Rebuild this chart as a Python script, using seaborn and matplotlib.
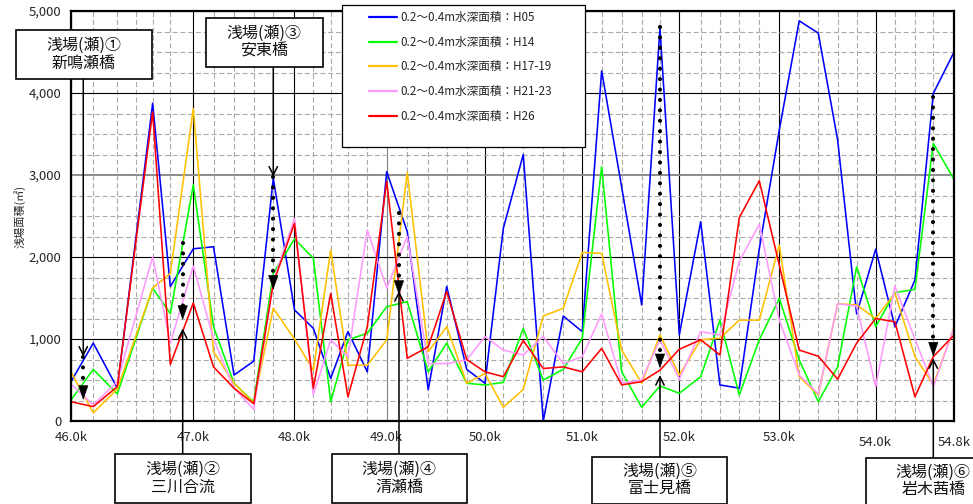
import matplotlib
matplotlib.use("Agg")
import matplotlib.pyplot as plt
from matplotlib.lines import Line2D
from matplotlib.patches import Rectangle
from matplotlib.transforms import ScaledTranslation, blended_transform_factory
import pandas as pd
import seaborn as sns

# cumulative distance of each surveyed cross-section from 46.0k (m)
section_dist = [0, 227, 472, 662, 832, 1012, 1246, 1452, 1661, 1862,
                2061, 2277, 2469, 2646, 2822, 3019, 3217, 3426, 3640, 3828,
                4032, 4218, 4405, 4608, 4812, 5016, 5209, 5407, 5611, 5815,
                6001, 6198, 6416, 6612, 6809, 7013, 7217, 7420, 7614, 7811,
                8005, 8199, 8395, 8599, 8786, 9000]

# shallow area (m2) with 0.2-0.4 m water depth, per survey period
h05 = [480, 950, 400, 2240, 3875, 1640, 2100, 2125, 560, 730,
       2960, 1355, 1130, 520, 1090, 600, 3040, 2310, 380, 1640,
       630, 460, 2350, 3250, 0, 1280, 1090, 4270, 2850, 1415,
       4790, 1050, 2430, 440, 400, 2100, 3550, 4880, 4730, 3430,
       1305, 2095, 1150, 1720, 3995, 4505]
h14 = [256, 630, 330, 1010, 1620, 1310, 2880, 1150, 460, 230,
       1800, 2220, 1985, 235, 990, 1070, 1395, 1455, 600, 950,
       460, 440, 470, 1130, 500, 630, 1010, 3100, 600, 167,
       427, 338, 540, 1230, 317, 990, 1495, 745, 235, 660,
       1880, 1150, 1565, 1605, 3385, 2940]
h17_19 = [600, 100, 390, 1040, 1620, 1800, 3810, 845, 460, 220,
          1375, 1000, 620, 2085, 680, 680, 990, 3030, 845, 1150,
          460, 580, 167, 386, 1280, 1375, 2055, 2045, 865, 460,
          1050, 560, 990, 1010, 1230, 1230, 2145, 540, 317, 1430,
          1415, 1250, 1560, 785, 440, 1150]
h21_23 = [450, 195, 480, 1285, 2000, 950, 1890, 1000, 400, 143,
          1700, 2470, 320, 990, 785, 2330, 1620, 2250, 700, 700,
          745, 1030, 865, 805, 1030, 700, 785, 1305, 460, 500,
          990, 510, 1090, 1050, 1945, 2400, 1230, 560, 330, 1430,
          1400, 420, 1645, 1000, 420, 1150]
h26 = [235, 175, 420, 2195, 3770, 690, 1440, 660, 400, 210,
       1680, 2410, 400, 1555, 296, 1150, 2920, 765, 905, 1580,
       750, 600, 540, 980, 640, 660, 600, 885, 440, 480,
       620, 875, 990, 805, 2480, 2930, 1900, 865, 790, 510,
       950, 1250, 1210, 296, 785, 1050]

series_names = ["0.2～0.4m水深面積：H05", "0.2～0.4m水深面積：H14",
                "0.2～0.4m水深面積：H17-19", "0.2～0.4m水深面積：H21-23",
                "0.2～0.4m水深面積：H26"]
series_colors = ["#0000FF", "#00FF00", "#FFC000", "#FF99FF", "#FF0000"]

tick_index = [0, 6, 11, 16, 21, 26, 31, 36, 41, 45]
tick_labels = ["46.0k", "47.0k", "48.0k", "49.0k", "50.0k",
               "51.0k", "52.0k", "53.0k", "54.0k", "54.8k"]

# shallow (riffle) sites
site_titles = ["浅場(瀬)①", "浅場(瀬)②", "浅場(瀬)③",
               "浅場(瀬)④", "浅場(瀬)⑤", "浅場(瀬)⑥"]
site_names = ["新鳴瀬橋", "三川合流", "安東橋", "清瀬橋", "富士見橋", "岩木茜橋"]
site_dist = [125, 1138, 2061, 3342, 6001, 8786]
site_from = [785, 2167, 2980, 2533, 4800, 3955]   # dotted arrow start
site_to = [256, 1232, 1600, 1537, 643, 785]       # dotted arrow tip
site_pointer = [785, 1130, 2980, 1585, 560, 765]  # leader line tip

W, H = 973, 504
# label box layout in pixels: centre x, centre y, width, height
box_layout = [(84, 54.5, 136, 49), (182.8, 478.5, 136, 48.4),
              (264.3, 42.5, 117, 48.4), (399.2, 478.6, 135, 48.7),
              (659.7, 480, 135, 47), (933.3, 481, 135, 47)]

sns.set_theme(style="white")
plt.rcParams["font.family"] = ["Noto Sans CJK JP", "DejaVu Sans"]

fig = plt.figure(figsize=(W / 100, H / 100), dpi=100)
ax = fig.add_axes([71 / W, 83 / H, 883.3 / W, 410 / H])

n = len(section_dist)
frame = pd.DataFrame({
    "distance": section_dist * 5,
    "area": h05 + h14 + h17_19 + h21_23 + h26,
    "series": [s for s in series_names for _ in range(n)],
})
sns.lineplot(data=frame, x="distance", y="area", hue="series",
             hue_order=series_names,
             palette=dict(zip(series_names, series_colors)),
             estimator=None, sort=False, lw=1.15, legend=False, ax=ax)

ax.set_xlim(section_dist[0], section_dist[-1])
ax.set_ylim(0, 5000)
ax.set_xlabel("")
ax.set_ylabel("浅場面積(㎡)", fontsize=8)
ax.yaxis.set_label_coords(-0.052, 0.5)

ax.set_xticks([section_dist[i] for i in tick_index])
ax.set_xticklabels(tick_labels, fontsize=9.5)
ax.set_xticks(section_dist, minor=True)
ax.set_yticks(range(0, 5001, 1000))
ax.set_yticklabels([f"{v:,}" for v in range(0, 5001, 1000)], fontsize=9.5)
ax.set_yticks(range(0, 5001, 250), minor=True)
ax.tick_params(which="both", length=0)
ax.tick_params(axis="x", pad=7.5)
ax.tick_params(axis="y", pad=7)

ax.set_axisbelow(True)
ax.grid(which="minor", color="#aaaaaa", lw=0.8, ls=(0, (4.5, 2.5)))
ax.grid(which="major", color="black", lw=0.8)
ax.xaxis.get_gridlines()[3].set_color("#808080")
ygl = ax.yaxis.get_gridlines()[3]
ygl.set_color("#8c8c8c")
ygl.set_linewidth(1.4)

for lab in ax.get_xticklabels()[-2:]:
    lab.set_transform(lab.get_transform()
                      + ScaledTranslation(0, -5 / 100, fig.dpi_scale_trans))

for sp in ax.spines.values():
    sp.set_visible(True)
    sp.set_color("black")
    sp.set_linewidth(1.6)

# legend with a wide frame drawn behind it
frame_box = Rectangle((341.7 / W, 1 - 146.7 / H), 243.3 / W, 141.7 / H,
                      transform=fig.transFigure, facecolor="white",
                      edgecolor="black", lw=0.9, clip_on=False, zorder=5)
ax.add_patch(frame_box)
handles = [Line2D([], [], color=c, lw=1.6) for c in series_colors]
leg = ax.legend(handles, series_names, loc="upper left",
                bbox_to_anchor=(369.3 / W, 1 - 11 / H),
                bbox_transform=fig.transFigure, frameon=False,
                fontsize=8.4, handlelength=2.35, handletextpad=0.3,
                labelspacing=1.0, borderpad=0, borderaxespad=0)
leg.set_zorder(6)

# site labels with leader lines and change arrows
xy_mix = blended_transform_factory(ax.transData, fig.transFigure)
for i in range(len(site_titles)):
    cx, cy, bw, bh = box_layout[i]
    ax.add_patch(Rectangle(((cx - bw / 2) / W, 1 - (cy + bh / 2) / H),
                           bw / W, bh / H, transform=fig.transFigure,
                           facecolor="white", edgecolor="black", lw=1.2,
                           clip_on=False, zorder=8))
    ax.text(cx / W, 1 - cy / H, site_titles[i] + "\n" + site_names[i],
            transform=fig.transFigure, ha="center", va="center",
            fontsize=11.5, linespacing=1.05, zorder=9, color="#111111")
    top_box = cy < H / 2
    edge = (cy + bh / 2) if top_box else (cy - bh / 2)
    ax.annotate("", xy=(site_dist[i], site_pointer[i]), xycoords="data",
                xytext=(site_dist[i], 1 - edge / H), textcoords=xy_mix,
                arrowprops=dict(arrowstyle="->,head_length=0.6,head_width=0.3",
                                color="black", lw=1.1, mutation_scale=10,
                                shrinkA=0, shrinkB=0),
                annotation_clip=False, zorder=7)
    head = 160
    ax.plot([site_dist[i], site_dist[i]], [site_from[i], site_to[i] + head],
            color="black", lw=3.0, dashes=(0.001, 2.5),
            dash_capstyle="round", zorder=7)
    ax.annotate("", xy=(site_dist[i], site_to[i]), xycoords="data",
                xytext=(site_dist[i], site_to[i] + head), textcoords="data",
                arrowprops=dict(arrowstyle="-|>,head_length=0.95,head_width=0.33",
                                color="black", lw=0.5, mutation_scale=10,
                                shrinkA=0, shrinkB=0),
                annotation_clip=False, zorder=7)

fig.savefig("out.png", dpi=100)
